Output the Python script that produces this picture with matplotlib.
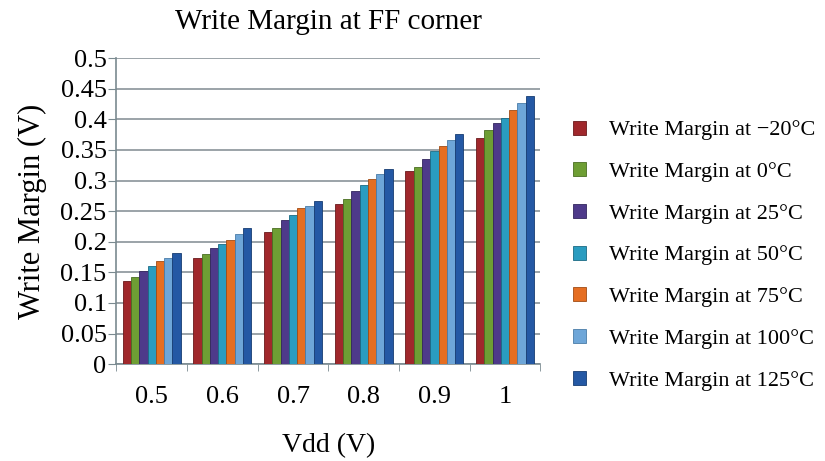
import matplotlib
matplotlib.use("Agg")
import matplotlib.pyplot as plt
import numpy as np

plt.rcParams['font.family'] = ['Liberation Serif', 'DejaVu Serif']

# data
vdd = ['0.5', '0.6', '0.7', '0.8', '0.9', '1']
temps = ['\u221220', '0', '25', '50', '75', '100', '125']
wm_m20 = [0.136, 0.174, 0.216, 0.261, 0.316, 0.370]
wm_0 = [0.143, 0.180, 0.222, 0.270, 0.322, 0.382]
wm_25 = [0.152, 0.190, 0.235, 0.283, 0.335, 0.394]
wm_50 = [0.160, 0.197, 0.244, 0.292, 0.348, 0.402]
wm_75 = [0.168, 0.203, 0.255, 0.302, 0.357, 0.415]
wm_100 = [0.174, 0.212, 0.259, 0.311, 0.366, 0.426]
wm_125 = [0.181, 0.222, 0.267, 0.319, 0.376, 0.438]
series = [wm_m20, wm_0, wm_25, wm_50, wm_75, wm_100, wm_125]

colors = ['#A0282C', '#6E9E34', '#4E3A8A', '#2A9CC0', '#E56E22', '#6EA6D8', '#2458A4']
edge = ['#6A1A1C', '#4A6E22', '#33265E', '#1B6A84', '#A04C16', '#4A7CA8', '#173C72']

fig = plt.figure(figsize=(8.25, 4.61), dpi=100)
ax = fig.add_axes([0.141, 0.21, 0.514, 0.664])

x = np.arange(len(vdd))
n = len(series)
w = 0.82 / n
for i, vals in enumerate(series):
    pos = x - 0.41 + w * (i + 0.5)
    ax.bar(pos, vals, width=w, color=colors[i], edgecolor=edge[i], linewidth=0.6,
           label=f'Write Margin at {temps[i]}\u00b0C', zorder=3)

ax.set_xlim(-0.5, len(vdd) - 0.5)
ax.set_ylim(0, 0.5)
ax.set_yticks(np.arange(0, 0.501, 0.05))
ax.set_yticklabels(['0', '0.05', '0.1', '0.15', '0.2', '0.25', '0.3', '0.35', '0.4', '0.45', '0.5'])
ax.yaxis.grid(True, color='#8A9499', linewidth=1.2, zorder=0)
ax.set_xticks(x)
ax.set_xticklabels(vdd)
ax.set_xticks(np.arange(-0.5, len(vdd), 1), minor=True)
ax.tick_params(axis='x', which='major', length=0, pad=16, labelsize=19)
ax.tick_params(axis='x', which='minor', length=5, color='#7A8A90')
ax.tick_params(axis='y', length=6, color='#7A8A90', labelsize=19, pad=1)

for s in ['top', 'right']:
    ax.spines[s].set_visible(False)
for s in ['left', 'bottom']:
    ax.spines[s].set_color('#7A8A90')
    ax.spines[s].set_linewidth(1.2)

ax.set_title('Write Margin at FF corner', fontsize=21, pad=21)
ax.set_xlabel('Vdd (V)', fontsize=20, labelpad=18)
ax.set_ylabel('Write Margin (V)', fontsize=22, labelpad=10)

leg = ax.legend(loc='center left', bbox_to_anchor=(1.03, 0.355), frameon=False,
                fontsize=16, handlelength=0.6, handleheight=0.6,
                labelspacing=0.98, handletextpad=1.0)

fig.savefig('out.png', dpi=100)
